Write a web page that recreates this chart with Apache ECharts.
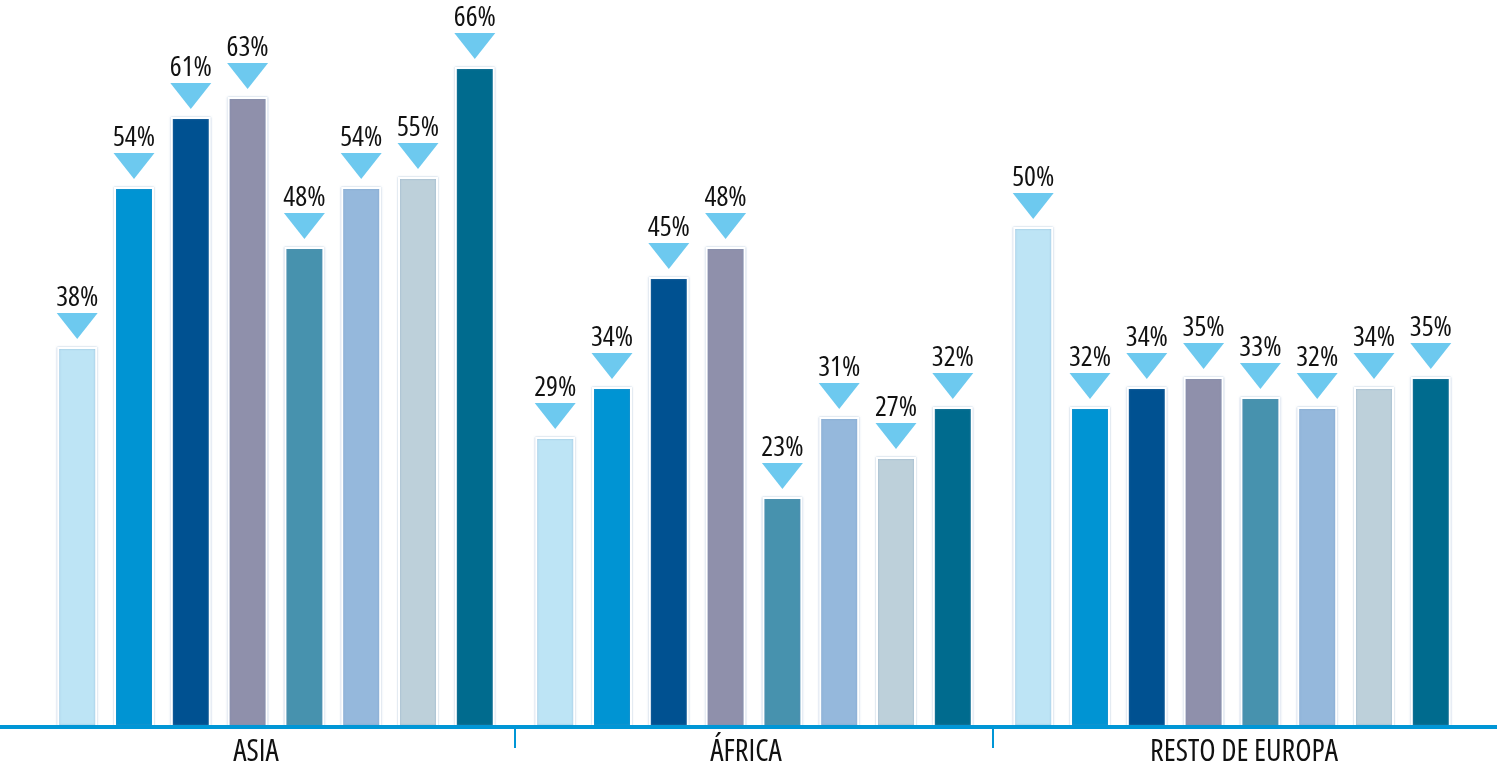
<!DOCTYPE html>
<html>
<head>
<meta charset="utf-8">
<script src="https://cdn.jsdelivr.net/npm/echarts@6/dist/echarts.min.js"></script>
<style>
html,body{margin:0;padding:0;background:#fff;}
#chart{width:1501px;height:768px;}
</style>
</head>
<body>
<div id="chart"></div>
<script>
const categories = ['ASIA', 'ÁFRICA', 'RESTO DE EUROPA'];
const s1 = [38, 29, 50];
const s2 = [54, 34, 32];
const s3 = [61, 45, 34];
const s4 = [63, 48, 35];
const s5 = [48, 23, 33];
const s6 = [54, 31, 32];
const s7 = [55, 27, 34];
const s8 = [66, 32, 35];
const seriesData = [s1, s2, s3, s4, s5, s6, s7, s8];
const colors = ['#BDE4F5', '#0094D3', '#005191', '#8F90AB', '#4792AE', '#95B8DC', '#BDD0DA', '#006B8E'];

const FONT = "'Open Sans', 'Liberation Sans', sans-serif";
const FONT_W = 'normal condensed';
const AXIS_COLOR = '#0096D6';
const TRI_COLOR = '#6DC9EF';
const BAR_W = 40, BAR_GAP = '42%';

const series = [];
seriesData.forEach((d, i) => {
  series.push({
    type: 'bar',
    data: d,
    barWidth: BAR_W,
    barGap: BAR_GAP,
    silent: true,
    itemStyle: {
      color: colors[i],
      borderColor: '#ffffff',
      borderWidth: 2,
      shadowBlur: 2,
      shadowColor: 'rgba(110,145,190,0.55)'
    },
    label: {
      show: true,
      position: 'top',
      distance: 35,
      formatter: '{c}%',
      fontFamily: FONT,
      fontWeight: FONT_W,
      fontSize: 28,
      color: '#111111'
    },
    z: 2
  });
});
seriesData.forEach((d, i) => {
  series.push({
    type: 'pictorialBar',
    data: d,
    barWidth: BAR_W,
    barGap: BAR_GAP,
    silent: true,
    symbol: 'path://M0,0L40,0L20,26Z',
    symbolSize: [41, 26],
    symbolPosition: 'end',
    symbolOffset: [0, -34],
    itemStyle: { color: TRI_COLOR },
    z: 3
  });
});

const labelStyle = { fontFamily: FONT, fontWeight: FONT_W, fontSize: 30, color: '#111111' };
const chart = echarts.init(document.getElementById('chart'), null, { renderer: 'canvas' });
chart.setOption({
  animation: false,
  grid: { left: 37, right: 30, top: 27, bottom: 41, containLabel: false },
  xAxis: {
    type: 'category',
    data: categories,
    axisLine: { show: false },
    axisTick: { show: false },
    axisLabel: {
      margin: 10,
      formatter: function (v, i) { return '{c' + i + '|' + v + '}'; },
      rich: {
        c0: Object.assign({ padding: [0, 40, 0, 0] }, labelStyle),
        c1: Object.assign({ padding: [0, 16, 0, 0] }, labelStyle),
        c2: Object.assign({ padding: [0, 0, 0, 24] }, labelStyle)
      }
    }
  },
  yAxis: {
    type: 'value',
    min: 0,
    max: 70,
    show: false,
    splitLine: { show: false }
  },
  series: series
});

// axis line across full width and ticks at category boundaries
const y0 = chart.convertToPixel({ yAxisIndex: 0 }, 0);
const xs = categories.map((c, i) => chart.convertToPixel({ xAxisIndex: 0 }, i));
const graphics = [{
  type: 'line',
  shape: { x1: 0, y1: y0, x2: 1497, y2: y0 },
  style: { stroke: AXIS_COLOR, lineWidth: 4 },
  z: 10, silent: true
}];
for (let i = 0; i < xs.length - 1; i++) {
  const bx = Math.round((xs[i] + xs[i + 1]) / 2);
  graphics.push({
    type: 'line',
    shape: { x1: bx, y1: y0, x2: bx, y2: y0 + 21 },
    style: { stroke: AXIS_COLOR, lineWidth: 2 },
    z: 10, silent: true
  });
}
chart.setOption({ graphic: graphics });
</script>
</body>
</html>
